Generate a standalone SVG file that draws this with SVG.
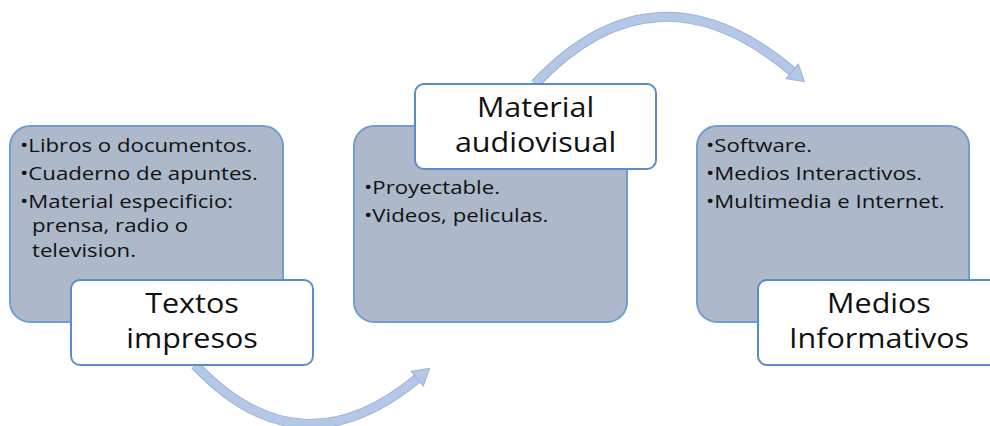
<svg xmlns="http://www.w3.org/2000/svg" width="990" height="426" viewBox="0 0 990 426">
<style>
.card{fill:#adb9ca;stroke:#6e9ed2;stroke-width:2}
.lab{fill:#ffffff;stroke:#5a8dc8;stroke-width:2}
.b{font-family:"Open Sans","DejaVu Sans",sans-serif;font-size:18.5px;fill:#111111}
.t{font-family:"Open Sans","DejaVu Sans",sans-serif;font-size:27px;fill:#111111;text-anchor:middle}
.edge{fill:none;stroke:#9db3d8;stroke-width:10}
.band{fill:none;stroke:#b4c7e7;stroke-width:8}
</style>
<defs>
<marker id="ah" markerUnits="userSpaceOnUse" viewBox="-2 -11 19 22" refX="0" refY="0" markerWidth="19" markerHeight="22" orient="auto">
<path d="M-1,-9.5 L15,0 L-1,9.5 z" fill="#b4c7e7" stroke="#9db3d8" stroke-width="1"/>
</marker>
</defs>
<g id="connectors">
<path class="edge" d="M195,365 Q300,476 418,378"/>
<path class="band" d="M195,365 Q300,476 418,378" marker-end="url(#ah)"/>
<path class="edge" d="M535,84 Q656,-44 793,72"/>
<path class="band" d="M535,84 Q656,-44 793,72" marker-end="url(#ah)"/>
</g>
<g id="node-textos">
<rect class="card" x="10" y="126" width="273" height="196" rx="20"/>
<text class="b" transform="translate(20,152) scale(1.2,1)"><tspan x="0" y="0">•Libros o documentos.</tspan><tspan x="0" y="28">•Cuaderno de apuntes.</tspan><tspan x="0" y="56">•Material especificio:</tspan><tspan x="10" y="80">prensa, radio o</tspan><tspan x="10" y="105">television.</tspan></text>
<rect class="lab" x="71" y="280" width="242" height="85" rx="9"/>
<text class="t" transform="translate(192,313) scale(1.13,1)"><tspan x="0" y="0">Textos</tspan><tspan x="0" y="35">impresos</tspan></text>
</g>
<g id="node-audiovisual">
<rect class="card" x="354" y="126" width="273" height="196" rx="20"/>
<text class="b" transform="translate(364,194) scale(1.2,1)"><tspan x="0" y="0">•Proyectable.</tspan><tspan x="0" y="28">•Videos, peliculas.</tspan></text>
<rect class="lab" x="415" y="84" width="241" height="85" rx="9"/>
<text class="t" transform="translate(535.5,117) scale(1.13,1)"><tspan x="0" y="0">Material</tspan><tspan x="0" y="35">audiovisual</tspan></text>
</g>
<g id="node-informativos">
<rect class="card" x="697" y="126" width="272" height="196" rx="20"/>
<text class="b" transform="translate(706,152) scale(1.2,1)"><tspan x="0" y="0">•Software.</tspan><tspan x="0" y="28">•Medios Interactivos.</tspan><tspan x="0" y="56">•Multimedia e Internet.</tspan></text>
<rect class="lab" x="758" y="280" width="242" height="85" rx="9"/>
<text class="t" transform="translate(879,313) scale(1.13,1)"><tspan x="0" y="0">Medios</tspan><tspan x="0" y="35">Informativos</tspan></text>
</g>
</svg>
